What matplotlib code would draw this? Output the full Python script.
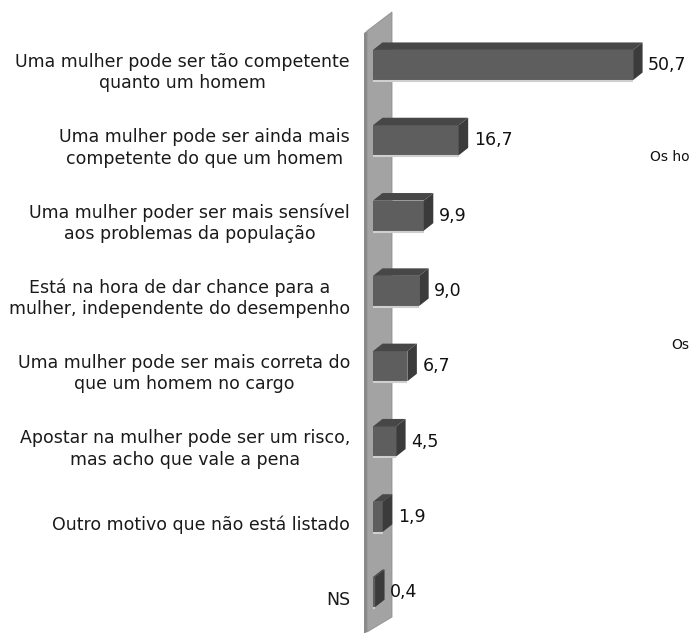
import matplotlib
matplotlib.use('Agg')
import matplotlib.pyplot as plt
from matplotlib.patches import Polygon

# Data
categories = [
    'Uma mulher pode ser tão competente\nquanto um homem',
    'Uma mulher pode ser ainda mais\ncompetente do que um homem',
    'Uma mulher poder ser mais sensível\naos problemas da população',
    'Está na hora de dar chance para a\nmulher, independente do desempenho',
    'Uma mulher pode ser mais correta do\nque um homem no cargo',
    'Apostar na mulher pode ser um risco,\nmas acho que vale a pena',
    'Outro motivo que não está listado',
    'NS',
]
values = [50.7, 16.7, 9.9, 9.0, 6.7, 4.5, 1.9, 0.4]
value_labels = ['50,7', '16,7', '9,9', '9,0', '6,7', '4,5', '1,9', '0,4']

FRONT = '#5e5e5e'
TOP = '#474747'
SIDE = '#3b3b3b'

W, H = 689, 633
px = 5.13      # pixels per percent
x0 = 373       # pixel of value 0
c0 = 65        # pixel centre of first bar
step = 75.3    # pixels between bars

fig = plt.figure(figsize=(W / 100, H / 100), dpi=100)
ax = fig.add_axes([0, 0, 1, 1])
ax.set_xlim(-x0 / px, (W - x0) / px)
ax.set_ylim((H - c0) / step, -c0 / step)
ax.axis('off')


def to_data(x, y):
    return ((x - x0) / px, (y - c0) / step)


# side wall of the 3d chart
wall_side = [to_data(364, 33), to_data(367, 31), to_data(367, 632), to_data(364, 634)]
wall_front = [to_data(367, 31), to_data(392, 12), to_data(392, 617), to_data(367, 632)]
ax.add_patch(Polygon(wall_side, closed=True, fc='#8a8a8a', ec='none'))
ax.add_patch(Polygon(wall_front, closed=True, fc='#a3a3a3', ec='#8f8f8f', lw=0.6))

h = 0.4
dx = 9.5 / px
dy = 7.5 / step

for i, v in enumerate(values):
    top = i - h / 2
    bot = i + h / 2
    # shadow line under bar
    ax.plot([0, v], [bot + 0.012, bot + 0.012], color='#cfcfcf', lw=1.5,
            solid_capstyle='butt')
    ax.barh(i, v, height=h, left=0, color=FRONT, edgecolor='none')
    ax.add_patch(Polygon([(0, top), (dx, top - dy), (v + dx, top - dy), (v, top)],
                         closed=True, fc=TOP, ec='none'))
    ax.add_patch(Polygon([(v, top), (v + dx, top - dy), (v + dx, bot - dy), (v, bot)],
                         closed=True, fc=SIDE, ec='none'))
    ax.text(v + 15 / px, i, value_labels[i], ha='left', va='center',
            fontsize=12.5, color='#111111')
    ax.text(-23 / px, i + 0.1, categories[i], ha='right', va='center',
            multialignment='center', fontsize=12.5, color='#1a1a1a',
            linespacing=1.25)

# fragments of a neighbouring chart cut by the frame
fig.text(650 / W, 1 - 157 / H, 'Os ho', ha='left', va='center', fontsize=10,
         color='#111111')
fig.text(671 / W, 1 - 345 / H, 'Os', ha='left', va='center', fontsize=10,
         color='#111111')

fig.savefig('out.png', dpi=100)
